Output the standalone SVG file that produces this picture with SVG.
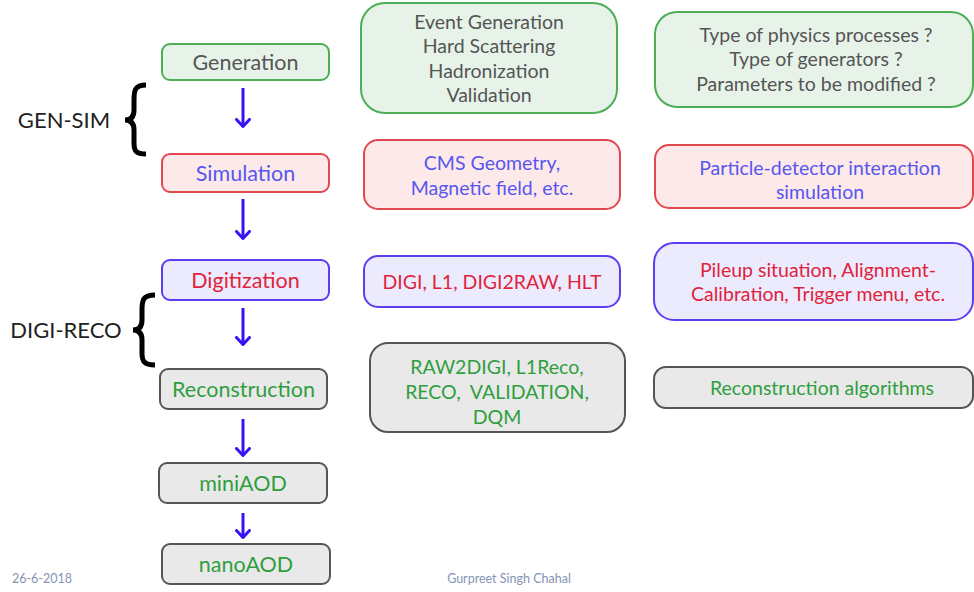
<svg xmlns="http://www.w3.org/2000/svg" width="974" height="592" viewBox="0 0 974 592">
<style>
text{font-family:Lato,"Noto Sans","Liberation Sans",sans-serif;text-anchor:middle}
.g rect{fill:#e7f3e9;stroke:#4caf55;stroke-width:2}
.r rect{fill:#fde9e9;stroke:#e2484f;stroke-width:2}
.p rect{fill:#ecebfd;stroke:#5a3ff0;stroke-width:2}
.k rect{fill:#e9e9e9;stroke:#555;stroke-width:2}
.tg{fill:#555}
.tb{fill:#5757ee}
.tr{fill:#e0233c}
.tn{fill:#2f9e3e}
.main{font-size:21.5px}
.sub{font-size:19.5px}
.arr{stroke:#3a10f5;stroke-width:3;fill:none}
.brace{stroke:#000;stroke-width:5;fill:none}
.foot{font-size:12.5px;fill:#8494b4}
</style>
<defs>
<marker id="ah" viewBox="0 0 10 16" refX="9" refY="8" markerWidth="10" markerHeight="16" markerUnits="userSpaceOnUse" orient="auto">
<path d="M1.5,1.5 L8.5,8 L1.5,14.5" fill="none" stroke="#3a10f5" stroke-width="3" stroke-linecap="round" stroke-linejoin="round"/>
</marker>
</defs>

<g id="generation" class="g"><rect x="162" y="44" width="167" height="36" rx="8"/><text class="main tg" x="245.5" y="69.5">Generation</text></g>
<g id="simulation" class="r"><rect x="162" y="154" width="167" height="38" rx="8"/><text class="main tb" x="245.5" y="180.5">Simulation</text></g>
<g id="digitization" class="p"><rect x="162" y="260" width="167" height="40" rx="8"/><text class="main tr" x="245.5" y="287.5">Digitization</text></g>
<g id="reconstruction" class="k"><rect x="160" y="369" width="167" height="40" rx="8"/><text class="main tn" x="243.5" y="396.5">Reconstruction</text></g>
<g id="miniaod" class="k"><rect x="159" y="463" width="168" height="40" rx="8"/><text class="main tn" x="243" y="490.5">miniAOD</text></g>
<g id="nanoaod" class="k"><rect x="162" y="544" width="168" height="40" rx="8"/><text class="main tn" x="246" y="571.5">nanoAOD</text></g>

<g id="gen-details" class="g"><rect x="361" y="3" width="256" height="110" rx="24"/>
<text class="sub tg" x="489" y="28.5">Event Generation</text><text class="sub tg" x="489" y="52.5">Hard Scattering</text><text class="sub tg" x="489" y="77.5">Hadronization</text><text class="sub tg" x="489" y="101.5">Validation</text></g>
<g id="sim-details" class="r"><rect x="364" y="140" width="256" height="69" rx="14"/>
<text class="sub tb" x="492" y="169.5">CMS Geometry,</text><text class="sub tb" x="492" y="194.5">Magnetic field, etc.</text></g>
<g id="digi-details" class="p"><rect x="364" y="256" width="256" height="51" rx="14"/>
<text class="sub tr" x="492" y="288.5">DIGI, L1, DIGI2RAW, HLT</text></g>
<g id="reco-details" class="k"><rect x="370" y="343" width="255" height="89" rx="18"/>
<text class="sub tn" x="497" y="373.5">RAW2DIGI, L1Reco,</text><text class="sub tn" x="497" y="398.5">RECO,&#160; VALIDATION,</text><text class="sub tn" x="497" y="423.5">DQM</text></g>

<g id="gen-questions" class="g"><rect x="655" y="12" width="318" height="95" rx="22"/>
<text class="sub tg" x="816" y="41.5">Type of physics processes ?</text><text class="sub tg" x="816" y="65.5">Type of generators ?</text><text class="sub tg" x="816" y="90.5">Parameters to be modified ?</text></g>
<g id="sim-questions" class="r"><rect x="655" y="145" width="318" height="63" rx="14"/>
<text class="sub tb" x="820" y="174.5">Particle-detector interaction</text><text class="sub tb" x="820" y="198.5">simulation</text></g>
<g id="digi-questions" class="p"><rect x="654" y="243" width="319" height="77" rx="20"/>
<text class="sub tr" x="818" y="276.5">Pileup situation, Alignment-</text><text class="sub tr" x="818" y="300.5">Calibration, Trigger menu, etc.</text></g>
<g id="reco-questions" class="k"><rect x="654" y="367" width="319" height="41" rx="12"/>
<text class="sub tn" x="822" y="394.5">Reconstruction algorithms</text></g>

<g id="gen-sim">
<path class="brace" d="M146,85 C135,85 134,90 134,100 L134,110 C134,117 131,120 125,120 C131,120 134,123 134,130 L134,143 C134,151 136,154 146,154"/>
<text x="64" y="128" style="font-size:22px;fill:#222">GEN-SIM</text></g>
<g id="digi-reco">
<path class="brace" d="M155,295 C143,295 142,300 142,310 L142,320 C142,327 139,330 133,330 C139,330 142,333 142,340 L142,353 C142,361 144,365 155,365"/>
<text x="66" y="338" style="font-size:22px;fill:#222">DIGI-RECO</text></g>

<g id="connectors">
<line class="arr" x1="243" y1="88" x2="243" y2="127" marker-end="url(#ah)"/>
<line class="arr" x1="243" y1="199" x2="243" y2="239" marker-end="url(#ah)"/>
<line class="arr" x1="243" y1="308" x2="243" y2="345" marker-end="url(#ah)"/>
<line class="arr" x1="243" y1="419" x2="243" y2="456" marker-end="url(#ah)"/>
<line class="arr" x1="243" y1="513" x2="243" y2="538" marker-end="url(#ah)"/>
</g>

<text class="foot" x="42" y="583">26-6-2018</text>
<text class="foot" x="509" y="583">Gurpreet Singh Chahal</text>
</svg>
